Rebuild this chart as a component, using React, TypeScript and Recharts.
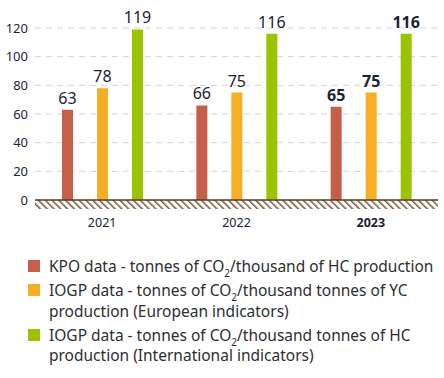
import { Bar, BarChart, CartesianGrid, LabelList, ReferenceArea, XAxis, YAxis } from 'recharts';

const years = ['2021', '2022', '2023'];
const kpoValues = [63, 66, 65];
const iogpEuropeValues = [78, 75, 75];
const iogpIntlValues = [119, 116, 116];
const yTicks = [0, 20, 40, 60, 80, 100, 120];
const boldYear = '2023';

const series = [
  { key: 'kpo', color: '#c4604a', label: ['KPO data - tonnes of CO', '/thousand of HC production'] },
  {
    key: 'iogpEu',
    color: '#f6ae26',
    label: ['IOGP data - tonnes of CO', '/thousand tonnes of YC production (European indicators)']
  },
  {
    key: 'iogpIntl',
    color: '#9bc300',
    label: ['IOGP data - tonnes of CO', '/thousand tonnes of HC production (International indicators)']
  }
];

const data = years.map((year, i) => ({
  year,
  kpo: kpoValues[i],
  iogpEu: iogpEuropeValues[i],
  iogpIntl: iogpIntlValues[i]
}));

const font = '"Noto Sans", sans-serif';
const textColor = '#1c2333';

function YearTick(props: any) {
  const { x, y, payload } = props;
  const bold = payload.value === boldYear;
  return (
    <text x={x} y={y} dy={25} textAnchor="middle" fontFamily={font} fontSize={12.5} fill={textColor} fontWeight={bold ? 700 : 400}>
      {payload.value}
    </text>
  );
}

function ValueLabel(props: any) {
  const { x, y, width, value, index } = props;
  const bold = years[index] === boldYear;
  return (
    <text
      x={Number(x) + Number(width) / 2}
      y={Number(y) - 6}
      textAnchor="middle"
      fontFamily={font}
      fontSize={16}
      fill={textColor}
      fontWeight={bold ? 700 : 400}
    >
      {value}
    </text>
  );
}

export default function App() {
  return (
    <div style={{ position: 'absolute', left: 0, top: 0, width: 444, height: 378, background: '#fff' }}>
      <svg width={0} height={0} style={{ position: 'absolute' }}>
        <defs>
          <pattern id="ground-hatch" patternUnits="userSpaceOnUse" width={4.8} height={10} patternTransform="rotate(-45)">
            <line x1={0.8} y1={0} x2={0.8} y2={10} stroke="#6a4c2e" strokeWidth={1.4} />
          </pattern>
        </defs>
      </svg>
      <BarChart width={444} height={232} data={data} margin={{ top: 28, right: 6, bottom: 2, left: 0 }} barSize={11} barGap={24}>
        <CartesianGrid vertical={false} stroke="#d4d4d4" strokeDasharray="6 5" />
        <YAxis
          domain={[0, 120]}
          ticks={yTicks}
          width={35}
          axisLine={false}
          tickLine={false}
          tickSize={0}
          tickMargin={7}
          tick={{ fontFamily: font, fontSize: 13, fill: textColor }}
        />
        <XAxis
          dataKey="year"
          height={30}
          axisLine={{ stroke: '#5b3d20', strokeWidth: 1.5 }}
          tickLine={false}
          tickSize={0}
          tick={<YearTick />}
          interval={0}
        />
        <ReferenceArea y1={-6.3} y2={0} ifOverflow="visible" fill="url(#ground-hatch)" fillOpacity={1} stroke="none" />
        {series.map((s) => (
          <Bar key={s.key} dataKey={s.key} fill={s.color} isAnimationActive={false}>
            <LabelList dataKey={s.key} content={<ValueLabel />} />
          </Bar>
        ))}
      </BarChart>
      <div style={{ position: 'absolute', left: 28, top: 256, width: 412, fontFamily: font, fontSize: 15.5, color: '#2e2e2e', lineHeight: '20.5px' }}>
        {series.map((s) => (
          <div key={s.key} style={{ display: 'flex', alignItems: 'flex-start', marginBottom: 3.5 }}>
            <span style={{ width: 12, height: 12, background: s.color, marginTop: 4, flexShrink: 0 }} />
            <span style={{ marginLeft: 9 }}>
              {s.label[0]}
              <span style={{ fontSize: 10, lineHeight: '10px', position: 'relative', top: 5 }}>2</span>
              {s.label[1]}
            </span>
          </div>
        ))}
      </div>
    </div>
  );
}
